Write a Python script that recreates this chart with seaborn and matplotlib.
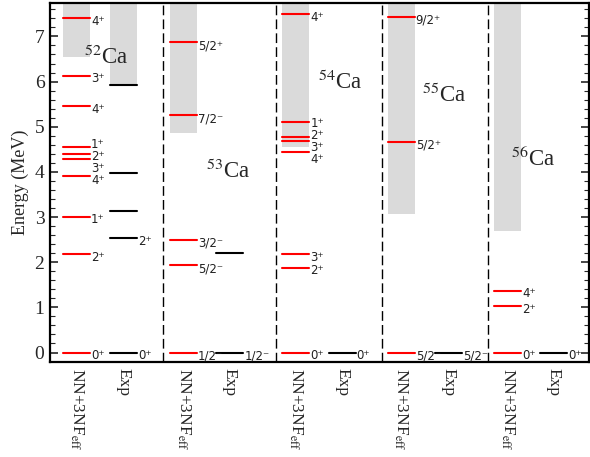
import numpy as np
import pandas as pd
import matplotlib
matplotlib.use("Agg")
import matplotlib.pyplot as plt
from matplotlib import transforms
import seaborn as sns

# ---------------- data ----------------
nuclei = ["52", "53", "54", "55", "56"]

nn_energy = [
    [0.0, 2.18, 3.01, 3.92, 4.28, 4.39, 4.56, 5.46, 6.13, 7.41],
    [0.0, 1.93, 2.50, 5.25, 6.87],
    [0.0, 1.88, 2.18, 4.43, 4.68, 4.78, 5.10, 7.50],
    [0.0, 4.67, 7.44],
    [0.0, 1.02, 1.37],
]
nn_spin = [
    ["0+", "2+", "1+", "4+", "3+", "2+", "1+", "4+", "3+", "4+"],
    ["1/2-", "5/2-", "3/2-", "7/2-", "5/2+"],
    ["0+", "2+", "3+", "4+", "3+", "2+", "1+", "4+"],
    ["5/2-", "5/2+", "9/2+"],
    ["0+", "2+", "4+"],
]
exp_energy = [
    [0.0, 2.54, 3.14, 3.98, 5.92],
    [0.0, 2.21],
    [0.0],
    [0.0],
    [0.0],
]
exp_spin = [
    ["0+", "2+", "", "", ""],
    ["1/2-", ""],
    ["0+"],
    ["5/2-"],
    ["0+"],
]
nn_threshold = [6.54, 4.87, 4.56, 3.06, 2.70]
exp_threshold = [5.95, None, None, None, None]
column_labels = [r"NN+3NF$_{\rm eff}$", "Exp"]
y_ticks = [0, 1, 2, 3, 4, 5, 6, 7]

# ---------------- layout ----------------
nn_centers = [26.5, 133.0, 245.5, 350.5, 457.0]
exp_centers = [73.5, 179.5, 291.5, 397.5, 503.0]
separators = [113.0, 225.5, 331.0, 437.0]
halfw = 13.5
name_pos = [(56.5, 6.54), (177.5, 4.02), (290.0, 5.98), (393.5, 5.70), (482.5, 4.30)]
XLIM = (0, 538)
YLIM = (-0.21, 7.74)
SERIF = ["Liberation Serif", "DejaVu Serif"]

sns.set_theme(style="ticks")
plt.rcParams["font.family"] = SERIF
plt.rcParams["mathtext.fontset"] = "stix"

fig = plt.figure(figsize=(5.9, 4.57), dpi=100)
ax = fig.add_axes([50 / 590, 1 - 362 / 457, 539 / 590, 359 / 457])

# continuum bands
for i in range(len(nuclei)):
    c = nn_centers[i]
    ax.fill_between([c - halfw, c + halfw], nn_threshold[i], YLIM[1],
                    color="#dadada", lw=0, zorder=0)
    if exp_threshold[i] is not None:
        c = exp_centers[i]
        ax.fill_between([c - halfw, c + halfw], exp_threshold[i], YLIM[1],
                        color="#dadada", lw=0, zorder=0)

# level lines through seaborn
rows = []
lid = 0
for i in range(len(nuclei)):
    for kind, centers, energies in (("NN", nn_centers, nn_energy), ("Exp", exp_centers, exp_energy)):
        for e in energies[i]:
            for xx in (centers[i] - halfw, centers[i] + halfw):
                rows.append({"id": lid, "x": xx, "E": e, "kind": kind})
            lid += 1
df = pd.DataFrame(rows)
sns.lineplot(data=df, x="x", y="E", units="id", estimator=None, hue="kind",
             palette={"NN": "#ff0000", "Exp": "#000000"}, legend=False,
             linewidth=1.5, sort=False, ax=ax, zorder=3)


def fmt(s):
    return s[:-1] + ("\u207a" if s[-1] == "+" else "\u207b")


def spread(ys, gap):
    ys = list(ys)
    order = np.argsort(ys)
    groups = [[ys[k]] for k in order]
    changed = True
    while changed:
        changed = False
        for g in range(len(groups) - 1):
            a, b = groups[g], groups[g + 1]
            ca = np.mean(a) + (len(a) - 1) / 2 * gap
            cb = np.mean(b) - (len(b) - 1) / 2 * gap
            if cb - ca < gap:
                groups[g] = a + b
                del groups[g + 1]
                changed = True
                break
    pos = []
    for grp in groups:
        m = np.mean(grp)
        n = len(grp)
        pos += [m + (j - (n - 1) / 2) * gap for j in range(n)]
    out = [0] * len(ys)
    for k, o in enumerate(order):
        out[o] = pos[k]
    return out


def label_column(center, energies, spins):
    items = [(e, s) for e, s in zip(energies, spins) if s]
    if not items:
        return
    ys = spread([e - 0.149 for e, _ in items], 0.265)
    for (e, s), y in zip(items, ys):
        ax.text(center + halfw + 1, y, fmt(s), fontsize=8.5, color="#202020",
                family=["DejaVu Sans"], ha="left", va="baseline", zorder=4)


for i in range(len(nuclei)):
    label_column(nn_centers[i], nn_energy[i], nn_spin[i])
    label_column(exp_centers[i], exp_energy[i], exp_spin[i])
    ax.text(name_pos[i][0], name_pos[i][1], r"$^{" + nuclei[i] + "}$Ca",
            fontsize=16.5, family=SERIF, ha="center", va="center", zorder=5)

for s in separators:
    ax.axvline(s, color="black", lw=1.0, ls=(0, (7, 3)), zorder=1)

# column labels under the axis
tr = transforms.blended_transform_factory(ax.transData, ax.transAxes)
for i in range(len(nuclei)):
    for c, lab in ((nn_centers[i], column_labels[0]), (exp_centers[i], column_labels[1])):
        ax.text(c, -0.017, lab, transform=tr, rotation=270, ha="center", va="top",
                fontsize=12.5, family=SERIF)

ax.set_xlim(*XLIM)
ax.set_ylim(*YLIM)
ax.set_xticks([])
ax.set_yticks(y_ticks, labels=[str(v) for v in y_ticks])
ax.set_yticks(np.arange(0, 7.8, 0.2), minor=True)
ax.tick_params(axis="y", which="both", direction="in", left=True, right=True,
               labelsize=14, pad=4, labelfontfamily="Liberation Serif")
ax.tick_params(axis="y", which="major", length=6, width=1.2)
ax.tick_params(axis="y", which="minor", length=3.5, width=0.8)
for sp in ax.spines.values():
    sp.set_visible(True)
    sp.set_linewidth(1.6)
    sp.set_color("black")
ax.set_xlabel("")
ax.set_ylabel("Energy (MeV)", fontsize=13, labelpad=4, family=SERIF)

fig.savefig("out.png", dpi=100)
